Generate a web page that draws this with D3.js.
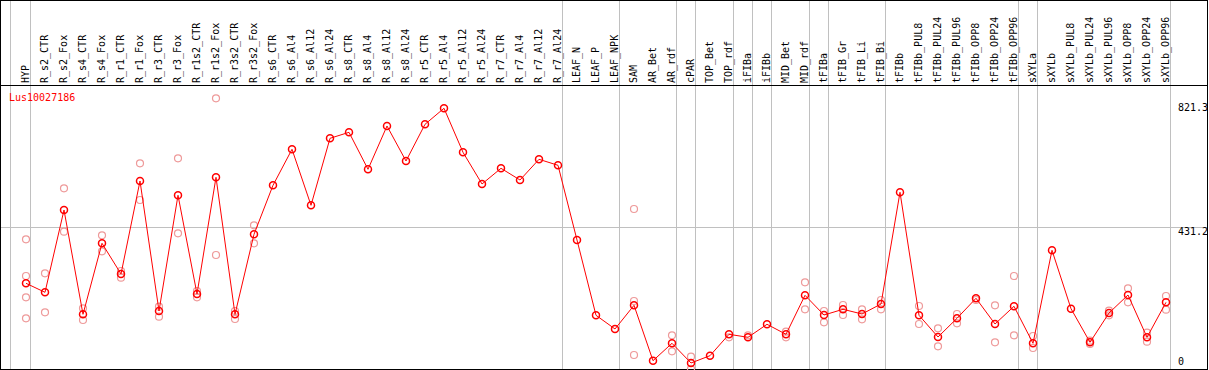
<!DOCTYPE html>
<html>
<head>
<meta charset="utf-8">
<script src="https://cdn.jsdelivr.net/npm/d3@7"></script>
<style>
  body { margin: 0; background: #fff; }
  text { font-family: "DejaVu Sans Mono", monospace; font-size: 10px; }
</style>
</head>
<body>
<svg id="plot"></svg>
<script>
// gene shown in the top left corner
const geneName = "Lus10027186";

// sample names along the top
const categories = ["HYP", "R_s2_CTR", "R_s2_Fox", "R_s4_CTR", "R_s4_Fox", "R_r1_CTR", "R_r1_Fox",
  "R_r3_CTR", "R_r3_Fox", "R_r1s2_CTR", "R_r1s2_Fox", "R_r3s2_CTR", "R_r3s2_Fox", "R_s6_CTR",
  "R_s6_Al4", "R_s6_Al12", "R_s6_Al24", "R_s8_CTR", "R_s8_Al4", "R_s8_Al12", "R_s8_Al24",
  "R_r5_CTR", "R_r5_Al4", "R_r5_Al12", "R_r5_Al24", "R_r7_CTR", "R_r7_Al4", "R_r7_Al12",
  "R_r7_Al24", "LEAF_N", "LEAF_P", "LEAF_NPK", "SAM", "AR_Bet", "AR_rdf", "cPAR", "TOP_Bet",
  "TOP_rdf", "iFIBa", "iFIBb", "MID_Bet", "MID_rdf", "tFIBa", "tFIB_Gr", "tFIB_Li", "tFIB_Bi",
  "tFIBb", "tFIBb_PUL8", "tFIBb_PUL24", "tFIBb_PUL96", "tFIBb_OPP8", "tFIBb_OPP24", "tFIBb_OPP96",
  "sXYLa", "sXYLb", "sXYLb_PUL8", "sXYLb_PUL24", "sXYLb_PUL96", "sXYLb_OPP8", "sXYLb_OPP24",
  "sXYLb_OPP96"];

// mean expression per sample
const means = [256.1, 227.9, 485.9, 158.9, 381.5, 285.3, 576.8, 169.3, 532.0, 222.6, 588.4,
  158.9, 409.7, 563.3, 676.2, 500.6, 710.6, 729.4, 613.5, 749.2, 639.5, 754.5, 804.7, 666.7,
  567.4, 616.6, 579.9, 644.8, 626.0, 391.8, 155.8, 112.9, 187.1, 13.5, 68.0, 6.3, 29.2, 96.2,
  86.8, 127.6, 96.2, 218.5, 156.7, 174.6, 159.9, 191.2, 541.4, 155.8, 87.8, 146.4, 209.1,
  128.5, 184.0, 68.0, 359.6, 176.5, 71.2, 163.0, 219.4, 86.8, 196.5];

// single replicate values per sample (same order as categories)
const replicates = [
  [394.0, 279.0, 212.2, 146.4], [287.5, 165.2], [553.9, 417.9], [177.7, 141.1], [406.6, 356.4],
  [294.7, 273.7], [632.3, 517.2], [182.8, 151.4], [647.9, 412.8], [232.0, 212.2],
  [836.0, 344.8], [169.3, 144.2], [437.9, 381.5], [], [], [], [], [], [], [], [], [], [], [],
  [], [], [], [], [], [], [], [], [489.0, 200.6, 31.3], [], [93.1, 42.9], [26.0, -12.0], [],
  [86.8], [93.1], [], [104.4, 86.8], [259.2, 174.6], [169.3, 133.9], [188.1, 156.7],
  [174.6, 143.3], [203.8, 174.6], [], [184.9, 128.5], [115.0, 58.6], [159.9, 130.7], [203.8],
  [187.1, 71.2], [279.0, 93.1], [90.9, 53.3], [], [], [76.2, 65.8], [170.2, 155.8],
  [240.4, 196.5], [101.3, 73.0], [216.3, 173.3]];

// samples followed by a grey divider
const groupEnds = ["HYP", "R_r7_Al24", "LEAF_NPK", "AR_rdf", "cPAR", "TOP_rdf", "iFIBa", "iFIBb",
  "MID_rdf", "tFIBa", "tFIB_Bi", "tFIBb_OPP96", "sXYLa", "sXYLb_OPP96"];

// right hand labels and grid
const yTicks = [0, 431.2, 821.3];
const gridTicks = [431.2];

const width = 1209, height = 370;
const headerY = 85.5, bottomY = 369;

const svg = d3.select("#plot")
    .attr("width", width)
    .attr("height", height);

// scales
const x = d3.scalePoint()
    .domain(categories)
    .range([26, 1166]);

const y = d3.scaleLinear()
    .domain([0, 821.3])
    .range([365, 103]);

// grey dividers (one before the first sample too)
const dividers = [x(categories[0]) - 15.5].concat(groupEnds.map(d => x(d) + 4.5));
svg.append("g")
  .selectAll("line")
  .data(dividers)
  .join("line")
    .attr("x1", d => d).attr("x2", d => d)
    .attr("y1", 0).attr("y2", bottomY)
    .attr("stroke", "#c0c0c0")
    .attr("shape-rendering", "crispEdges");

// horizontal grid
svg.append("g")
  .selectAll("line")
  .data(gridTicks)
  .join("line")
    .attr("x1", 0).attr("x2", 1207)
    .attr("y1", d => Math.round(y(d)) + 0.5)
    .attr("y2", d => Math.round(y(d)) + 0.5)
    .attr("stroke", "#c0c0c0")
    .attr("shape-rendering", "crispEdges");

// header line and frame
svg.append("line")
    .attr("x1", 0).attr("x2", 1207)
    .attr("y1", headerY).attr("y2", headerY)
    .attr("stroke", "#000")
    .attr("shape-rendering", "crispEdges");

svg.append("rect")
    .attr("x", 0.5).attr("y", 0.5)
    .attr("width", 1207).attr("height", bottomY)
    .attr("fill", "none")
    .attr("stroke", "#000")
    .attr("shape-rendering", "crispEdges");

// rotated sample labels
svg.append("g")
  .selectAll("text")
  .data(categories)
  .join("text")
    .attr("transform", d => "translate(" + (x(d) + 2.5) + ",83) rotate(-90)")
    .attr("fill", "#000")
    .text(d => d);

// gene name
svg.append("text")
    .attr("x", 9)
    .attr("y", 101)
    .attr("fill", "#ff0000")
    .text(geneName);

// value labels on the right
svg.append("g")
  .selectAll("text")
  .data(yTicks)
  .join("text")
    .attr("x", 1178)
    .attr("y", d => Math.min(y(d) + 7.5, 365))
    .attr("fill", "#000")
    .text(d => d);

// replicate points
const repPoints = [];
replicates.forEach((reps, i) => {
  reps.forEach(v => repPoints.push({ cat: categories[i], value: v }));
});

svg.append("g")
  .selectAll("circle")
  .data(repPoints)
  .join("circle")
    .attr("cx", d => x(d.cat))
    .attr("cy", d => y(d.value))
    .attr("r", 3.5)
    .attr("fill", "none")
    .attr("stroke", "#ee9a9a")
    .attr("stroke-width", 1.2);

// mean line
const line = d3.line()
    .x((d, i) => x(categories[i]))
    .y(d => y(d));

svg.append("path")
    .datum(means)
    .attr("d", line)
    .attr("fill", "none")
    .attr("stroke", "#ff0000")
    .attr("stroke-width", 1);

// mean markers
svg.append("g")
  .selectAll("circle")
  .data(means)
  .join("circle")
    .attr("cx", (d, i) => x(categories[i]))
    .attr("cy", d => y(d))
    .attr("r", 3.5)
    .attr("fill", "none")
    .attr("stroke", "#ff0000")
    .attr("stroke-width", 1.5);
</script>
</body>
</html>
